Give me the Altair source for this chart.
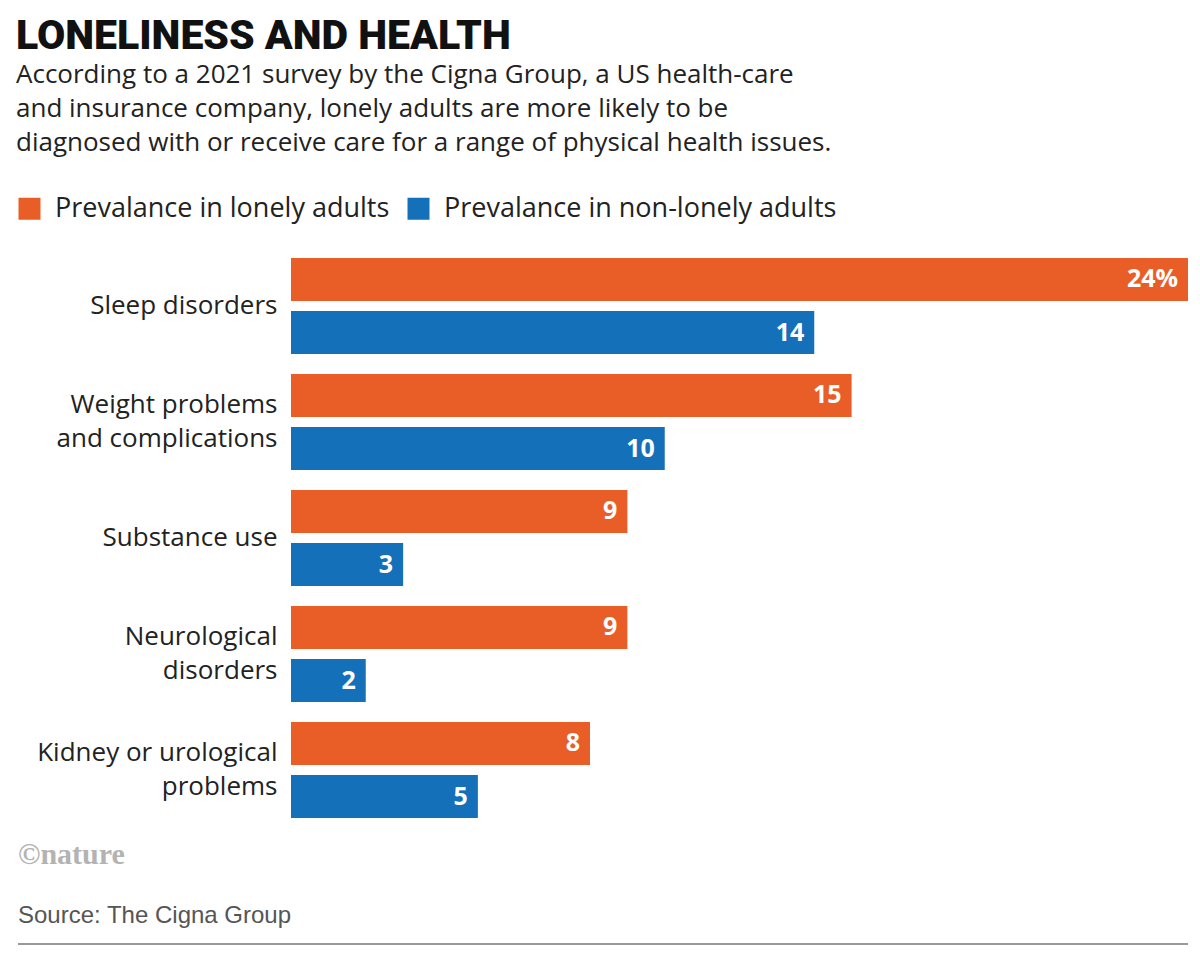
import altair as alt
import pandas as pd

categories = [
    "Sleep disorders",
    "Weight problems\nand complications",
    "Substance use",
    "Neurological\ndisorders",
    "Kidney or urological\nproblems",
]
series = ["Prevalance in lonely adults", "Prevalance in non-lonely adults"]
lonely = [24, 15, 9, 9, 8]
non_lonely = [14, 10, 3, 2, 5]
colors = ["#e85e26", "#1470b9"]

title_text = "LONELINESS AND HEALTH"
subtitle_lines = [
    "According to a 2021 survey by the Cigna Group, a US health-care",
    "and insurance company, lonely adults are more likely to be",
    "diagnosed with or receive care for a range of physical health issues.",
]
source_text = "Source: The Cigna Group"
logo_text = "©nature"

rows = []
for i, c in enumerate(categories):
    for s, vals in zip(series, [lonely, non_lonely]):
        v = vals[i]
        label = f"{v}%" if (i == 0 and s == series[0]) else str(v)
        rows.append({"category": c, "series": s, "value": v, "label": label})
df = pd.DataFrame(rows)

FONT = "Open Sans"

y_enc = alt.Y(
    "category:N",
    sort=categories,
    scale=alt.Scale(paddingInner=0.172, paddingOuter=0.086),
    axis=alt.Axis(
        title=None,
        labelExpr="split(datum.label, '\\n')",
        labelFontSize=26,
        labelFont=FONT,
        labelColor="#222222",
        labelLineHeight=34,
        labelPadding=14,
        labelOffset={
            "condition": {"test": "indexof(datum.label, '\\n') >= 0", "value": -17},
            "value": 0,
        },
        ticks=False,
        domain=False,
        labelLimit=400,
    ),
)
yoff = alt.YOffset(
    "series:N", sort=series, scale=alt.Scale(paddingInner=0.19, paddingOuter=0)
)
x_enc = alt.X("value:Q", scale=alt.Scale(domain=[0, 24], nice=False), axis=None)

bars = alt.Chart(df).mark_bar().encode(
    x=x_enc,
    y=y_enc,
    yOffset=yoff,
    color=alt.Color(
        "series:N",
        sort=series,
        scale=alt.Scale(domain=series, range=colors),
        legend=alt.Legend(
            title=None,
            orient="none",
            legendX=-275,
            legendY=-53,
            direction="horizontal",
            symbolType="square",
            symbolSize=484,
            symbolStrokeWidth=0,
            labelFontSize=27,
            labelFont=FONT,
            labelColor="#222222",
            columnPadding=15,
            labelOffset=12,
            labelLimit=600,
        ),
    ),
)

labels = alt.Chart(df).mark_text(
    align="right",
    baseline="middle",
    dx=-10,
    color="white",
    fontWeight="bold",
    fontSize=25,
    font=FONT,
).encode(x=x_enc, y=y_enc, yOffset=yoff, text="label:N")

logo = alt.Chart(pd.DataFrame({"t": [logo_text]})).mark_text(
    align="left",
    baseline="middle",
    font="Liberation Serif",
    fontWeight="bold",
    fontSize=30,
    color="#b3b3b3",
).encode(text="t:N", x=alt.value(-273), y=alt.value(607))

source = alt.Chart(pd.DataFrame({"t": [source_text]})).mark_text(
    align="left",
    baseline="middle",
    font="Liberation Sans",
    fontSize=24,
    color="#555555",
).encode(text="t:N", x=alt.value(-273), y=alt.value(668))

rule = alt.Chart(pd.DataFrame({"a": [0]})).mark_rule(
    color="#999999", strokeWidth=2
).encode(x=alt.value(-273), x2=alt.value(897), y=alt.value(696))

chart = (
    alt.layer(bars, labels, logo, source, rule)
    .properties(
        width=897,
        height=580,
        autosize=alt.AutoSizeParams(type="none"),
        padding={"left": 283, "top": 240, "right": 2, "bottom": 118},
        title=alt.TitleParams(
            text=title_text,
            subtitle=subtitle_lines,
            anchor="start",
            frame="bounds",
            font="Roboto",
            fontSize=41,
            fontWeight=900,
            color="#111111",
            subtitleFont=FONT,
            subtitleFontSize=26,
            subtitleColor="#222222",
            subtitleLineHeight=34,
            subtitlePadding=4,
            offset=38,
        ),
    )
    .configure_view(stroke=None)
)

chart.save("out.html", embed_options={"renderer": "svg", "actions": False})
